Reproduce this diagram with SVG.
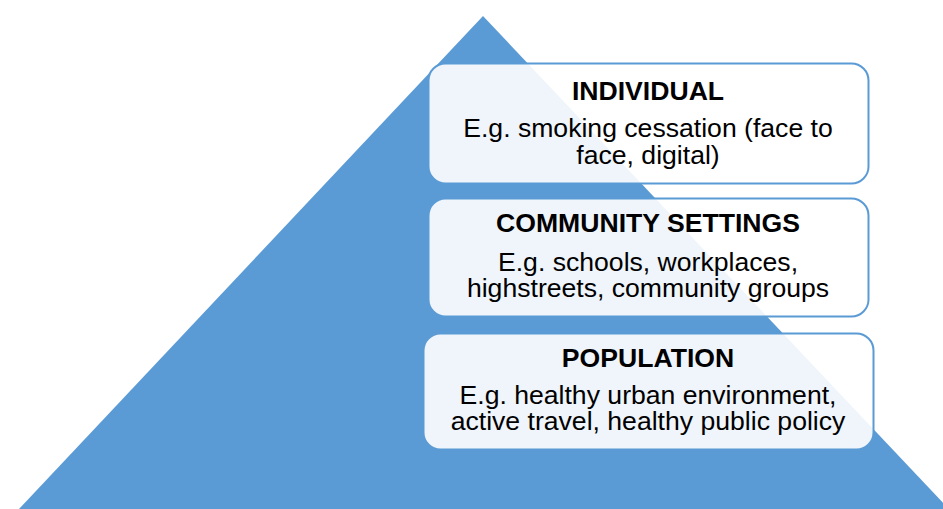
<svg xmlns="http://www.w3.org/2000/svg" width="943" height="509" viewBox="0 0 943 509">
<style>
.box{fill:#ffffff;fill-opacity:0.9;stroke:#5b9bd5;stroke-width:2}
.t{font-family:"Liberation Sans",Arial,sans-serif;font-size:26.6px;font-weight:bold;fill:#000;text-anchor:middle}
.b{font-family:"Liberation Sans",Arial,sans-serif;font-size:26.6px;fill:#000;text-anchor:middle}
</style>
<rect width="943" height="509" fill="#ffffff"/>
<polygon id="pyramid" points="483,16 949,509 19,509" fill="#5b9bd5"/>
<g id="connectors"/>
<g id="individual">
<rect class="box" x="428.5" y="63.5" width="440" height="120" rx="17"/>
<text class="t" x="648" y="100">INDIVIDUAL</text>
<text class="b" x="648" y="137">E.g. smoking cessation (face to</text>
<text class="b" x="648" y="164">face, digital)</text>
</g>
<g id="community">
<rect class="box" x="428.5" y="198.5" width="440" height="118" rx="17"/>
<text class="t" x="648" y="232">COMMUNITY SETTINGS</text>
<text class="b" x="648" y="271">E.g. schools, workplaces,</text>
<text class="b" x="648" y="297">highstreets, community groups</text>
</g>
<g id="population">
<rect class="box" x="423.5" y="333.5" width="450" height="116" rx="17"/>
<text class="t" x="648" y="367">POPULATION</text>
<text class="b" x="648" y="404">E.g. healthy urban environment,</text>
<text class="b" x="648" y="430">active travel, healthy public policy</text>
</g>
</svg>
